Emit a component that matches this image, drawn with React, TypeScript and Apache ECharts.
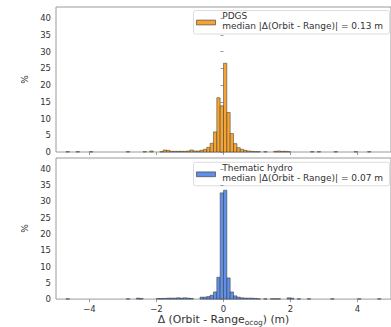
import React, { useEffect, useRef } from "react";
import * as echarts from "echarts";

// ---- data (percent of samples per 0.1 m bin; bins given by their left edge, in m) ----
const BIN_WIDTH = 0.1;
const X_MIN = -5;
const X_MAX = 5;
const xTickValues = [-4, -2, 0, 2, 4];
const yTickValues = [0, 5, 10, 15, 20, 25, 30, 35, 40];

const pdgsName = "PDGS\nmedian |Δ(Orbit - Range)| = 0.13 m";
const pdgsBinStart = [
  -4.7, -4.4, -4.0, -2.9, -2.4, -2.2, -1.9, -1.8, -1.7, -1.6, -1.5, -1.4, -1.3, -1.2,
  -1.1, -1.0, -0.9, -0.8, -0.7, -0.6, -0.5, -0.4, -0.3, -0.2, -0.1, 0.0, 0.1, 0.2,
  0.3, 0.4, 0.5, 0.6, 0.7, 0.8, 0.9, 1.0, 1.2, 1.5, 1.6, 1.7, 1.8, 1.9, 2.6, 2.8,
  3.3, 3.9, 4.3,
];
const pdgsPct = [
  0.1, 0.1, 0.1, 0.1, 0.1, 0.3, 0.1, 0.6, 0.5, 0.2, 0.2, 0.2, 0.2, 0.2,
  0.3, 0.6, 0.3, 0.3, 0.5, 0.8, 1.4, 2.6, 6.0, 16.2, 13.8, 26.5, 11.8, 5.5,
  2.5, 1.3, 0.8, 0.5, 0.3, 0.2, 0.1, 0.1, 0.1, 0.2, 0.3, 0.2, 0.2, 0.1, 0.1, 0.1,
  0.1, 0.1, 0.1,
];

const hydroName = "Thematic hydro\nmedian |Δ(Orbit - Range)| = 0.07 m";
const hydroBinStart = [
  -4.7, -2.9, -2.6, -2.5, -2.0, -1.9, -1.8, -1.7, -1.6, -1.5, -1.4, -1.3, -1.2, -1.1,
  -1.0, -0.7, -0.6, -0.5, -0.4, -0.3, -0.2, -0.1, 0.0, 0.1, 0.2, 0.3, 0.4, 0.5,
  0.6, 0.7, 0.8, 0.9, 1.0, 1.2, 1.4, 1.5, 1.6, 1.9, 2.0, 2.2, 2.5, 3.2, 4.0, 4.6,
];
const hydroPct = [
  0.1, 0.1, 0.3, 0.2, 0.2, 0.2, 0.2, 0.3, 0.3, 0.3, 0.4, 0.3, 0.4, 0.3,
  0.2, 0.6, 0.6, 0.8, 1.2, 2.2, 6.7, 32.6, 33.4, 6.5, 2.2, 1.0, 0.6, 0.4,
  0.3, 0.3, 0.3, 0.2, 0.1, 0.1, 0.1, 0.1, 0.1, 0.4, 0.3, 0.1, 0.1, 0.1, 0.1, 0.1,
];

const ORANGE = "#f5a432";
const BLUE = "#5f8fe6";
const EDGE = "#333333";
const FRAME = "#9a9a9a";
const TEXT = "#333333";
const FONT = "DejaVu Sans";

const histSeries = (name: string, starts: number[], pct: number[], color: string, idx: number) => ({
  type: "custom",
  name,
  xAxisIndex: idx,
  yAxisIndex: idx,
  itemStyle: { color, borderColor: EDGE, borderWidth: 0.5 },
  encode: { x: 0, y: 1 },
  data: starts.map((s, i) => [s, pct[i]]),
  renderItem: (_params: any, api: any) => {
    const x0 = api.value(0);
    const y = api.value(1);
    const p0 = api.coord([x0, y]);
    const p1 = api.coord([x0 + BIN_WIDTH, 0]);
    return {
      type: "rect",
      shape: { x: p0[0], y: p0[1], width: p1[0] - p0[0], height: p1[1] - p0[1] },
      style: { fill: color, stroke: EDGE, lineWidth: 0.5 },
    };
  },
});

const xAxis = (idx: number, showLabels: boolean) => ({
  type: "value",
  gridIndex: idx,
  min: X_MIN,
  max: X_MAX,
  splitLine: { show: false },
  axisLine: { show: false },
  axisTick: { show: true, length: 3, lineStyle: { color: FRAME }, customValues: xTickValues },
  axisLabel: {
    show: showLabels,
    customValues: xTickValues,
    margin: 5,
    fontSize: 8.5,
    fontFamily: FONT,
    color: TEXT,
    formatter: (v: number) => (v < 0 ? "\u2212" + Math.abs(v) : String(v)),
  },
  ...(showLabels
    ? {
        name: "{a|Δ (Orbit - Range}{s|ocog}{a|) (m)}",
        nameLocation: "middle",
        nameGap: 9,
        nameTextStyle: {
          fontFamily: FONT,
          color: TEXT,
          rich: {
            a: { fontSize: 10.8, fontFamily: FONT, color: TEXT, lineHeight: 13 },
            s: { fontSize: 7.5, fontFamily: FONT, color: TEXT, verticalAlign: "bottom", lineHeight: 8 },
          },
        },
      }
    : {}),
});

const yAxis = (idx: number) => ({
  type: "value",
  gridIndex: idx,
  min: 0,
  max: 43.3,
  splitLine: { show: false },
  axisLine: { show: false },
  axisTick: { show: true, length: 3, lineStyle: { color: FRAME }, customValues: yTickValues },
  axisLabel: { customValues: yTickValues, margin: 5, fontSize: 8.5, fontFamily: FONT, color: TEXT },
  name: "%",
  nameLocation: "middle",
  nameRotate: 90,
  nameGap: 19,
  nameTextStyle: { fontSize: 9, fontFamily: FONT, color: TEXT },
});

// legend box drawn as a graphic group (matplotlib-style: patch centred on a two-line label)
const legendBox = (name: string, top: number, color: string) => ({
  type: "group",
  left: 193,
  top,
  children: [
    {
      type: "rect",
      shape: { x: 0, y: 0, width: 196, height: 23.5, r: 2 },
      style: { fill: "#ffffff", stroke: "#dddddd", lineWidth: 1 },
    },
    {
      type: "rect",
      shape: { x: 3, y: 9.6, width: 19, height: 4.8 },
      style: { fill: color, stroke: EDGE, lineWidth: 0.6 },
    },
    {
      type: "text",
      x: 28.7,
      y: 10.5,
      style: {
        text: name,
        fontSize: 9,
        fontFamily: FONT,
        fill: TEXT,
        lineHeight: 9.6,
        verticalAlign: "middle",
        align: "left",
      },
    },
  ],
});

const option = {
  animation: false,
  backgroundColor: "#ffffff",
  grid: [
    { left: 56, top: 7, height: 145, width: 336, show: true, borderColor: FRAME, borderWidth: 1, backgroundColor: "transparent" },
    { left: 56, top: 158, height: 146, width: 336, show: true, borderColor: FRAME, borderWidth: 1, backgroundColor: "transparent" },
  ],
  xAxis: [xAxis(0, false), xAxis(1, true)],
  yAxis: [yAxis(0), yAxis(1)],
  series: [
    histSeries(pdgsName, pdgsBinStart, pdgsPct, ORANGE, 0),
    histSeries(hydroName, hydroBinStart, hydroPct, BLUE, 1),
  ],
  graphic: [legendBox(pdgsName, 10, ORANGE), legendBox(hydroName, 161.8, BLUE)],
};

export default function App() {
  const ref = useRef<HTMLDivElement>(null);
  useEffect(() => {
    const chart = echarts.init(ref.current!, null, { renderer: "svg" });
    chart.setOption(option as any);
    return () => chart.dispose();
  }, []);
  return (
    <div
      ref={ref}
      style={{ position: "absolute", left: 0, top: 0, width: 391, height: 327 }}
    />
  );
}
